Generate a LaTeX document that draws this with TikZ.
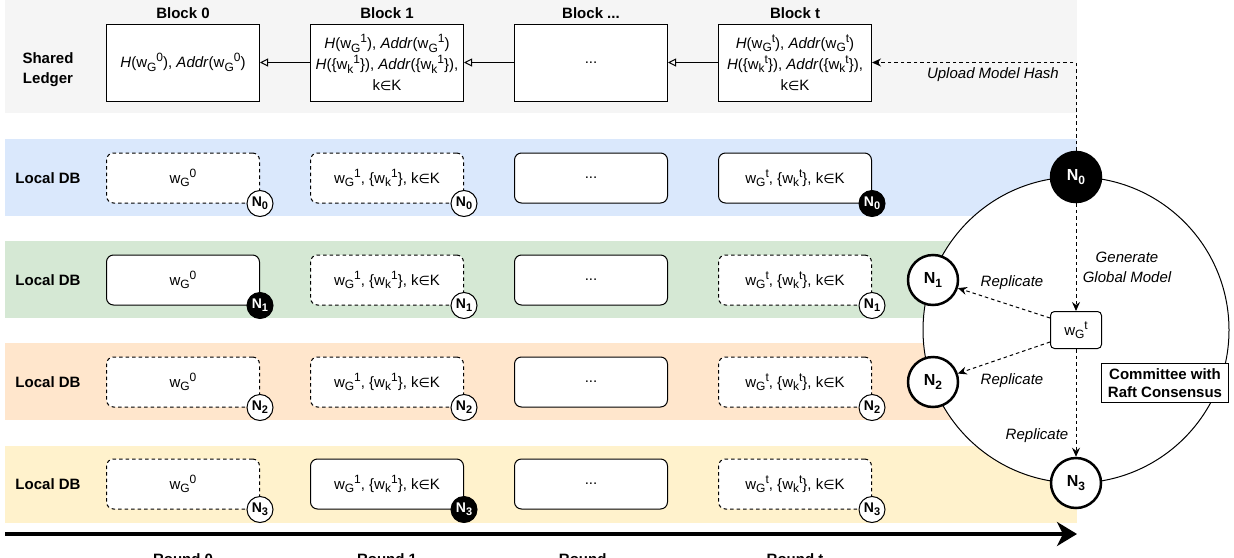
\documentclass[tikz,border=0pt]{standalone}
\usepackage{fontspec}
\setmainfont{Liberation Sans}
\newfontfamily\symfont{DejaVu Sans}
\usetikzlibrary{arrows.meta}
\newcommand{\fsz}[2]{\fontsize{#1pt}{#2pt}\selectfont}
\newcommand{\elem}{{\symfont\fsz{13}{13}∈}}
\newcommand{\sbs}[1]{\raisebox{-3.5pt}{\fsz{12}{12}#1}}
\newcommand{\sps}[1]{\raisebox{6pt}{\fsz{12}{12}#1}}
\newcommand{\wG}[1]{w\sbs{G}\sps{#1}}
\newcommand{\wk}[1]{w\sbs{k}\sps{#1}}
\newcommand{\Nn}[1]{N\raisebox{-3pt}{\fsz{11}{11}\bfseries #1}}
\newcommand{\Nb}[1]{N\raisebox{-3.5pt}{\fsz{12}{12}\bfseries #1}}
\definecolor{ledgerbg}{HTML}{F5F5F5}
\definecolor{bluebg}{HTML}{DAE8FC}
\definecolor{greenbg}{HTML}{D5E8D4}
\definecolor{orangebg}{HTML}{FFE6CC}
\definecolor{yellowbg}{HTML}{FFF2CC}
\tikzset{
 band/.style={draw=none, fill=#1},
 hdr/.style={font=\fsz{15}{20}\bfseries, align=center, inner sep=0pt},
 ledger/.style={draw, line width=1pt, fill=white, minimum width=153pt, minimum height=77pt, align=center, inner sep=1pt, font=\fsz{15}{21}},
 dbbox/.style={draw, line width=1pt, fill=white, rounded corners=7pt, minimum width=153pt, minimum height=50pt, inner sep=1pt, font=\fsz{15}{18}},
 dbdash/.style={dbbox, dash pattern=on 3.5pt off 3pt},
 tag/.style={circle, draw, line width=1pt, fill=white, minimum size=26pt, inner sep=0pt, font=\fsz{14}{14}\bfseries},
 tagon/.style={tag, fill=black, text=white},
 bign/.style={circle, draw, line width=2.5pt, fill=white, minimum size=50pt, inner sep=0pt, font=\fsz{16}{16}\bfseries},
 bignon/.style={bign, fill=black, text=white},
 lbl/.style={font=\fsz{15}{20}\itshape, align=center, inner sep=0pt},
 dasharrow/.style={line width=1pt, dash pattern=on 3.5pt off 3pt, -{Stealth[length=9pt,width=8pt,inset=3pt]}},
 chain/.style={line width=1pt, -{Triangle[open,length=8pt,width=8pt]}},
}
\begin{document}
\begin{tikzpicture}[x=1pt,y=-1pt]
\useasboundingbox (0,0) rectangle (1234,557);
\clip (0,0) rectangle (1234,557);
% bands
\fill[band=ledgerbg] (5,0) rectangle (1077,113);
\fill[band=bluebg] (5,139) rectangle (1077,216);
\fill[band=greenbg] (5,241) rectangle (1077,318);
\fill[band=orangebg] (5,343) rectangle (1077,420);
\fill[band=yellowbg] (5,446) rectangle (1077,523);
% row labels
\node[hdr] (lshared) at (48,70) {Shared\\Ledger};
\node[hdr] (ldb0) at (48,178) {Local DB};
\node[hdr] (ldb1) at (48,280) {Local DB};
\node[hdr] (ldb2) at (48,382) {Local DB};
\node[hdr] (ldb3) at (48,484) {Local DB};
% block titles
\node[hdr] (bt0) at (183,13) {Block 0};
\node[hdr] (bt1) at (387,13) {Block 1};
\node[hdr] (bt2) at (591,13) {Block ...};
\node[hdr] (bt3) at (795,13) {Block t};
% ledger blocks
\node[ledger] (b0) at (183,62.5) {\textit{H}(\wG{0}), \textit{Addr}(\wG{0})};
\node[ledger] (b1) at (387,62.5) {\textit{H}(\wG{1}), \textit{Addr}(\wG{1})\\\textit{H}(\{\wk{1}\}), \textit{Addr}(\{\wk{1}\}),\\k\elem K};
\node[ledger] (b2) at (591,62.5) {...};
\node[ledger] (b3) at (795,62.5) {\textit{H}(\wG{t}), \textit{Addr}(\wG{t})\\\textit{H}(\{\wk{t}\}), \textit{Addr}(\{\wk{t}\}),\\k\elem K};
\draw[chain] (b1.west) -- (b0.east);
\draw[chain] (b2.west) -- (b1.east);
\draw[chain] (b3.west) -- (b2.east);
% local DB rows
% row 0 (N0)
\node[dbdash] (d00) at (183,178) {\wG{0}};
\node[dbdash] (d01) at (387,178) {\wG{1}, \{\wk{1}\}, k\elem K};
\node[dbbox] (d02) at (591,178) {...};
\node[dbbox] (d03) at (795,178) {\wG{t}, \{\wk{t}\}, k\elem K};
\node[tag] (t00) at (d00.south east) {\Nn{0}};
\node[tag] (t01) at (d01.south east) {\Nn{0}};
\node[tagon] (t03) at (d03.south east) {\Nn{0}};
% row 1 (N1)
\node[dbbox] (d10) at (183,280) {\wG{0}};
\node[dbdash] (d11) at (387,280) {\wG{1}, \{\wk{1}\}, k\elem K};
\node[dbbox] (d12) at (591,280) {...};
\node[dbdash] (d13) at (795,280) {\wG{t}, \{\wk{t}\}, k\elem K};
\node[tagon] (t10) at (d10.south east) {\Nn{1}};
\node[tag] (t11) at (d11.south east) {\Nn{1}};
\node[tag] (t13) at (d13.south east) {\Nn{1}};
% row 2 (N2)
\node[dbdash] (d20) at (183,382) {\wG{0}};
\node[dbdash] (d21) at (387,382) {\wG{1}, \{\wk{1}\}, k\elem K};
\node[dbbox] (d22) at (591,382) {...};
\node[dbdash] (d23) at (795,382) {\wG{t}, \{\wk{t}\}, k\elem K};
\node[tag] (t20) at (d20.south east) {\Nn{2}};
\node[tag] (t21) at (d21.south east) {\Nn{2}};
\node[tag] (t23) at (d23.south east) {\Nn{2}};
% row 3 (N3)
\node[dbdash] (d30) at (183,484) {\wG{0}};
\node[dbbox] (d31) at (387,484) {\wG{1}, \{\wk{1}\}, k\elem K};
\node[dbbox] (d32) at (591,484) {...};
\node[dbdash] (d33) at (795,484) {\wG{t}, \{\wk{t}\}, k\elem K};
\node[tag] (t30) at (d30.south east) {\Nn{3}};
\node[tagon] (t31) at (d31.south east) {\Nn{3}};
\node[tag] (t33) at (d33.south east) {\Nn{3}};
% committee circle
\node[circle, draw, line width=1pt, fill=white, minimum size=306pt, inner sep=0pt] (ring) at (1076,330) {};
\node[draw, line width=1pt, fill=white, rounded corners=4pt, minimum width=51pt, minimum height=37pt, inner sep=0pt, font=\fsz{15}{18}] (wg) at (1076,330) {\wG{t}};
\node[draw, line width=1pt, fill=white, align=center, minimum width=127pt, minimum height=39pt, inner sep=1pt, font=\fsz{15}{18}\bfseries] (raft) at (1165,383) {Committee with\\Raft Consensus};
\node[bignon] (N0) at (1076,177) {\Nb{0}};
\node[bign] (N1) at (933,280) {\Nb{1}};
\node[bign] (N2) at (933,382) {\Nb{2}};
\node[bign] (N3) at (1076,483) {\Nb{3}};
% arrows
\draw[dasharrow] (N0.north) |- (b3.east);
\draw[dasharrow] (N0.south) -- (wg.north);
\draw[dasharrow] ([yshift=-7pt]wg.north west) -- (N1);
\draw[dasharrow] ([yshift=7pt]wg.south west) -- (N2);
\draw[dasharrow] (wg.south) -- (N3.north);
% labels
\node[lbl, anchor=east] (lup) at (1059,75) {Upload Model Hash};
\node[lbl] (lgen) at (1127,267) {Generate\\Global Model};
\node[lbl] (lrep1) at (1012,283) {Replicate};
\node[lbl] (lrep2) at (1012,381) {Replicate};
\node[lbl] (lrep3) at (1037,436) {Replicate};
% timeline
\coordinate (tl0) at (5,534);
\coordinate (tl1) at (1077,534);
\draw[line width=4pt, -{Stealth[length=20pt,width=24pt,inset=6pt]}] (tl0) -- (tl1);
\node[hdr, anchor=north] (rd0) at (183,553) {Round 0};
\node[hdr, anchor=north] (rd1) at (387,553) {Round 1};
\node[hdr, anchor=north] (rd2) at (591,553) {Round ...};
\node[hdr, anchor=north] (rd3) at (795,553) {Round t};
\end{tikzpicture}
\end{document}
